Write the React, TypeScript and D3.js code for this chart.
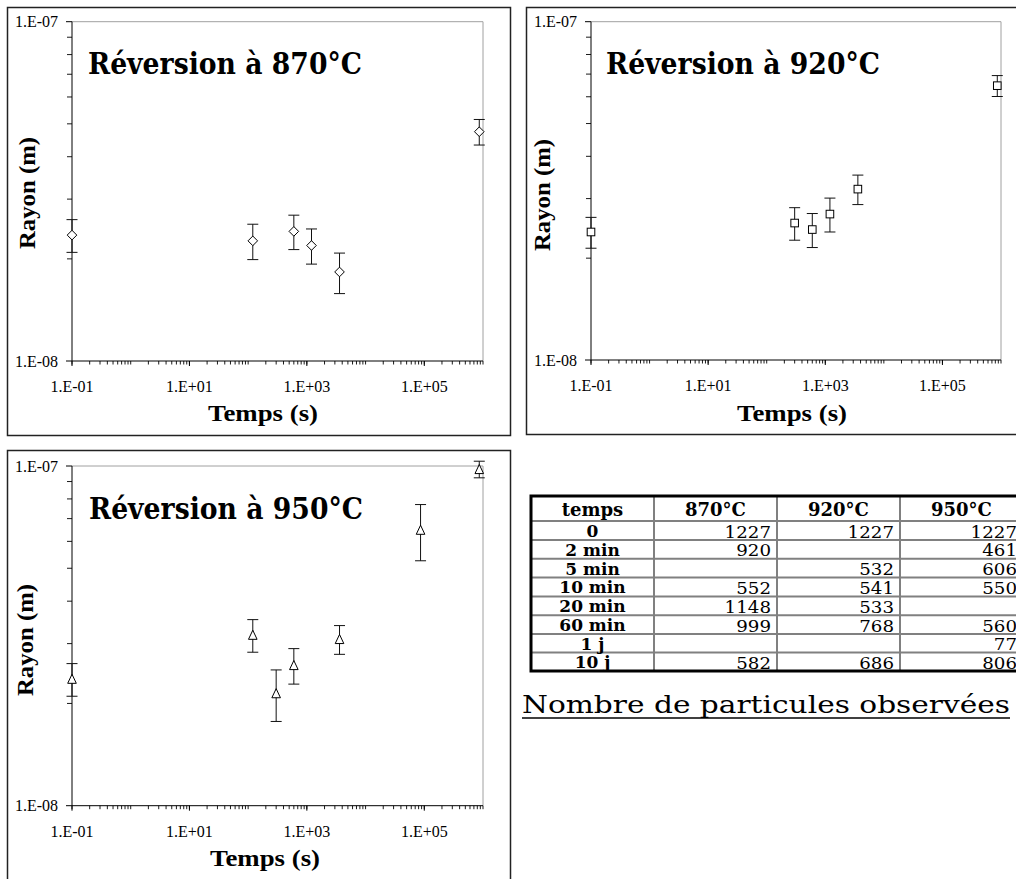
import React from "react";
import * as d3 from "d3";

// ---------- data ----------
const times870 = [0.1, 120, 600, 1200, 3600, 864000];
const radius870 = [2.35e-8, 2.26e-8, 2.41e-8, 2.19e-8, 1.83e-8, 4.74e-8];
const err870 = [0.26e-8, 0.27e-8, 0.28e-8, 0.26e-8, 0.25e-8, 0.41e-8];

const times920 = [0.1, 300, 600, 1200, 3600, 864000];
const radius920 = [2.39e-8, 2.54e-8, 2.43e-8, 2.7e-8, 3.2e-8, 6.47e-8];
const err920 = [0.25e-8, 0.28e-8, 0.28e-8, 0.31e-8, 0.32e-8, 0.46e-8];

const times950 = [0.1, 120, 300, 600, 3600, 86400, 864000];
const radius950 = [2.36e-8, 3.18e-8, 2.14e-8, 2.59e-8, 3.09e-8, 6.48e-8, 9.78e-8];
const err950 = [0.26e-8, 0.35e-8, 0.37e-8, 0.31e-8, 0.3e-8, 1.22e-8, 0.55e-8];

const xTickLabels = ["1.E-01", "1.E+01", "1.E+03", "1.E+05"];
const xTickValues = [0.1, 10, 1000, 100000];
const yTickLabels = ["1.E-08", "1.E-07"];
const yTickValues = [1e-8, 1e-7];

const tableHeader = ["temps", "870°C", "920°C", "950°C"];
const rowLabels = ["0", "2 min", "5 min", "10 min", "20 min", "60 min", "1 j", "10 j"];
const counts870 = [1227, 920, null, 552, 1148, 999, null, 582];
const counts920 = [1227, null, 532, 541, 533, 768, null, 686];
const counts950 = [1227, 461, 606, 550, null, 560, 77, 806];

// ---------- layout ----------
const X_DOMAIN: [number, number] = [0.1, 1e6];
const Y_DOMAIN: [number, number] = [1e-8, 1e-7];

type PanelCfg = {
  frame: [number, number, number, number];
  plot: { left: number; right: number; top: number; bottom: number };
  title: string;
  titleX: number;
  titleY: number;
  yTitleX: number;
  yTitleY: number;
  xTitleX: number;
  xTitleY: number;
  marker: "diamond" | "square" | "triangle";
  times: number[];
  radii: number[];
  errs: number[];
};

const panels: PanelCfg[] = [
  {
    frame: [7, 7, 510, 435],
    plot: { left: 72, right: 483, top: 21.7, bottom: 361 },
    title: "Réversion à 870°C",
    titleX: 88, titleY: 74,
    yTitleX: 27, yTitleY: 193,
    xTitleX: 263, xTitleY: 421,
    marker: "diamond",
    times: times870, radii: radius870, errs: err870,
  },
  {
    frame: [526, 7, 1040, 434],
    plot: { left: 591, right: 1001, top: 21.7, bottom: 360 },
    title: "Réversion à 920°C",
    titleX: 606, titleY: 74,
    yTitleX: 542, yTitleY: 195,
    xTitleX: 792, xTitleY: 421,
    marker: "square",
    times: times920, radii: radius920, errs: err920,
  },
  {
    frame: [7, 450, 510, 900],
    plot: { left: 72, right: 483, top: 466, bottom: 805.7 },
    title: "Réversion à 950°C",
    titleX: 89, titleY: 519,
    yTitleX: 25, yTitleY: 640,
    xTitleX: 265, xTitleY: 866,
    marker: "triangle",
    times: times950, radii: radius950, errs: err950,
  },
];

const AXIS_FONT = "'Liberation Serif', 'Times New Roman', serif";
const TITLE_FONT = "'DejaVu Serif', Georgia, serif";

function Marker({ type, x, y }: { type: string; x: number; y: number }) {
  if (type === "diamond") {
    const s = 4.8;
    return (
      <path
        d={`M${x},${y - s}L${x + s},${y}L${x},${y + s}L${x - s},${y}Z`}
        fill="#fff"
        stroke="#000"
        strokeWidth={1}
      />
    );
  }
  if (type === "square") {
    const s = 3.8;
    return <rect x={x - s} y={y - s} width={2 * s} height={2 * s} fill="#fff" stroke="#000" strokeWidth={1} />;
  }
  const s = 4.3;
  return (
    <path
      d={`M${x},${y - s - 0.5}L${x + s},${y + s}L${x - s},${y + s}Z`}
      fill="#fff"
      stroke="#000"
      strokeWidth={1}
    />
  );
}

function Panel({ cfg }: { cfg: PanelCfg }) {
  const { plot } = cfg;
  const x = d3.scaleLog().domain(X_DOMAIN).range([plot.left, plot.right]);
  const y = d3.scaleLog().domain(Y_DOMAIN).range([plot.bottom, plot.top]);

  const xMinor: number[] = [];
  for (let e = -1; e < 6; e++) {
    for (let k = 1; k <= 9; k++) xMinor.push(k * Math.pow(10, e));
  }
  xMinor.push(1e6);
  const yMinor: number[] = [];
  for (let k = 2; k <= 9; k++) yMinor.push(k * 1e-8);

  const [fx0, fy0, fx1, fy1] = cfg.frame;
  const capHalf = 5.5;

  return (
    <g>
      <rect x={fx0 + 0.5} y={fy0 + 0.5} width={fx1 - fx0} height={fy1 - fy0} fill="#fff" stroke="#222" strokeWidth={1.5} />
      <line x1={plot.left} x2={plot.right} y1={plot.top} y2={plot.top} stroke="#a0a0a0" strokeWidth={1} />
      <line x1={plot.right} x2={plot.right} y1={plot.top} y2={plot.bottom} stroke="#a0a0a0" strokeWidth={1} />
      <line x1={plot.left} x2={plot.right} y1={plot.bottom} y2={plot.bottom} stroke="#000" strokeWidth={1} />
      <line x1={plot.left} x2={plot.left} y1={plot.top} y2={plot.bottom} stroke="#000" strokeWidth={1} />
      {xMinor.map((v, i) => (
        <line key={"xm" + i} x1={x(v)} x2={x(v)} y1={plot.bottom} y2={plot.bottom + 3.5} stroke="#000" strokeWidth={0.9} />
      ))}
      {xTickValues.map((v, i) => (
        <g key={"xt" + i}>
          <line x1={x(v)} x2={x(v)} y1={plot.bottom} y2={plot.bottom + 5} stroke="#000" strokeWidth={1} />
          <text x={x(v)} y={plot.bottom + 31} textAnchor="middle" fontFamily={AXIS_FONT} fontSize={16} fill="#000">
            {xTickLabels[i]}
          </text>
        </g>
      ))}
      {yMinor.map((v, i) => (
        <line key={"ym" + i} x1={plot.left - 5} x2={plot.left} y1={y(v)} y2={y(v)} stroke="#000" strokeWidth={0.9} />
      ))}
      {yTickValues.map((v, i) => (
        <g key={"yt" + i}>
          <line x1={plot.left - 6} x2={plot.left} y1={y(v)} y2={y(v)} stroke="#000" strokeWidth={1} />
          <text x={plot.left - 14} y={y(v) + 5.5} textAnchor="end" fontFamily={AXIS_FONT} fontSize={16} fill="#000">
            {yTickLabels[i]}
          </text>
        </g>
      ))}
      {cfg.times.map((t, i) => {
        const cx = x(t);
        const r = cfg.radii[i];
        const e = cfg.errs[i];
        const yt = y(r + e);
        const yb = y(r - e);
        return (
          <g key={"p" + i}>
            <line x1={cx} x2={cx} y1={yt} y2={yb} stroke="#111" strokeWidth={1} />
            <line x1={cx - capHalf} x2={cx + capHalf} y1={yt} y2={yt} stroke="#111" strokeWidth={1} />
            <line x1={cx - capHalf} x2={cx + capHalf} y1={yb} y2={yb} stroke="#111" strokeWidth={1} />
            <Marker type={cfg.marker} x={cx} y={y(r)} />
          </g>
        );
      })}
      <text x={cfg.titleX} y={cfg.titleY} fontFamily={TITLE_FONT} fontWeight="bold" fontSize={29} textLength={274} lengthAdjust="spacingAndGlyphs" fill="#000">
        {cfg.title}
      </text>
      <text
        transform={`translate(${cfg.yTitleX},${cfg.yTitleY}) rotate(-90)`}
        textAnchor="middle"
        dominantBaseline="central"
        fontFamily={AXIS_FONT}
        fontWeight="bold"
        fontSize={24}
        textLength={112}
        lengthAdjust="spacingAndGlyphs"
        fill="#000"
      >
        Rayon (m)
      </text>
      <text x={cfg.xTitleX} y={cfg.xTitleY} textAnchor="middle" fontFamily={AXIS_FONT} fontWeight="bold" fontSize={24} textLength={110} lengthAdjust="spacingAndGlyphs" fill="#000">
        Temps (s)
      </text>
    </g>
  );
}

const colX = [531, 654, 777, 900, 1023];
const rowY = [496, 521, 540, 558.8, 577.6, 596.4, 615.2, 634, 652.5, 671];

function CountTable() {
  const cols = [counts870, counts920, counts950];
  return (
    <g>
      <rect x={colX[0]} y={rowY[0]} width={colX[4] - colX[0]} height={rowY[9] - rowY[0]} fill="#fff" />
      {rowY.slice(1, -1).map((yy, i) => (
        <line key={"h" + i} x1={colX[0]} x2={colX[4]} y1={yy} y2={yy} stroke="#808080" strokeWidth={2} />
      ))}
      {colX.slice(1, -1).map((xx, i) => (
        <line key={"v" + i} x1={xx} x2={xx} y1={rowY[0]} y2={rowY[9]} stroke="#808080" strokeWidth={2} />
      ))}
      <rect x={colX[0]} y={rowY[0]} width={colX[4] - colX[0]} height={rowY[9] - rowY[0]} fill="none" stroke="#000" strokeWidth={3} />
      {tableHeader.map((h, i) => (
        <text key={"th" + i} x={(colX[i] + colX[i + 1]) / 2} y={rowY[1] - 5} textAnchor="middle" fontFamily={TITLE_FONT} fontWeight="bold" fontSize={18} fill="#000">
          {h}
        </text>
      ))}
      {rowLabels.map((l, r) => (
        <text key={"rl" + r} x={(colX[0] + colX[1]) / 2} y={rowY[r + 2] - 3} textAnchor="middle" fontFamily={TITLE_FONT} fontWeight="bold" fontSize={17} fill="#000">
          {l}
        </text>
      ))}
      {cols.map((col, c) =>
        col.map((v, r) =>
          v == null ? null : (
            <text
              key={`c${c}-${r}`}
              x={colX[c + 2] - 6}
              y={rowY[r + 2] - 2.5}
              textAnchor="end"
              fontFamily={TITLE_FONT}
              fontSize={17}
              textLength={String(v).length * 11.6}
              lengthAdjust="spacingAndGlyphs"
              fill="#000"
            >
              {v}
            </text>
          )
        )
      )}
    </g>
  );
}

export default function App() {
  return (
    <svg width={1016} height={879} style={{ position: "absolute", left: 0, top: 0, background: "#fff" }}>
      <rect x={0} y={0} width={1016} height={879} fill="#fff" />
      {panels.map((p, i) => (
        <Panel key={i} cfg={p} />
      ))}
      <CountTable />
      <text x={522} y={713} fontFamily={TITLE_FONT} fontSize={24} textLength={488} lengthAdjust="spacingAndGlyphs" fill="#000">
        Nombre de particules observées
      </text>
      <line x1={522} x2={1010} y1={718} y2={718} stroke="#000" strokeWidth={1.5} />
    </svg>
  );
}
